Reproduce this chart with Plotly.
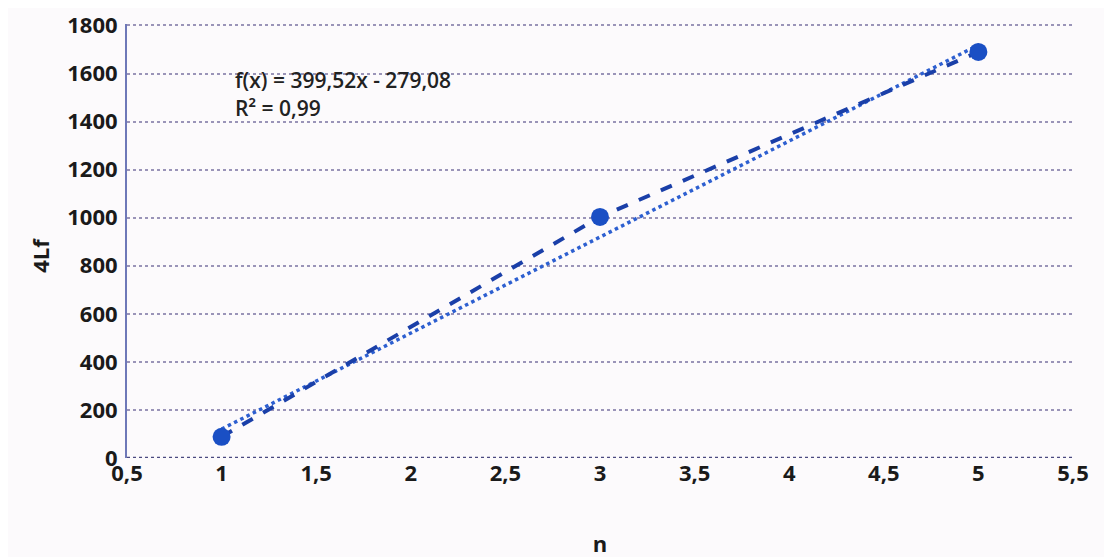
import plotly.graph_objects as go

n_values = [1, 3, 5]
lf4_values = [88, 1003, 1690]
trend_slope = 399.52
trend_intercept = -279.08
trend_x = [1, 5]
trend_label = "f(x) = 399,52x - 279,08"
r2_label = "R² = 0,99"
x_title = "n"
y_title = "4Lf"

trend_y = [trend_slope * x + trend_intercept for x in trend_x]

blue = "#1a4fc4"
font = "Open Sans"

fig = go.Figure()
fig.add_trace(go.Scatter(x=trend_x, y=trend_y, mode="lines",
                         line=dict(color="#2d5fd0", width=3.5, dash="dot"),
                         showlegend=False, hoverinfo="skip"))
fig.add_trace(go.Scatter(x=n_values, y=lf4_values, mode="lines+markers",
                         line=dict(color="#1a3fa8", width=4, dash="dash"),
                         marker=dict(color=blue, size=18),
                         showlegend=False))

for text, ypos in [(trend_label, 0.872), (r2_label, 0.806)]:
    fig.add_annotation(x=0.112, y=ypos, xref="paper", yref="paper",
                       xanchor="left", yanchor="middle",
                       text=text, align="left", showarrow=False,
                       font=dict(family=font, size=21, color="#222222", weight=600))

fig.add_annotation(x=-0.092, y=0.468, xref="paper", yref="paper",
                   xanchor="center", yanchor="middle", textangle=-90,
                   text=y_title, showarrow=False,
                   font=dict(family=font, size=22, color="#1a1a1a", weight="bold"))

fig.update_layout(
    width=1112, height=557,
    margin=dict(l=119, r=47, t=16, b=107),
    paper_bgcolor="#fcfafc", plot_bgcolor="#fcfafc",
    separators=", ",
    font=dict(family=font, size=22, color="#1a1a1a"),
    xaxis=dict(range=[0.5, 5.5], dtick=0.5, tick0=0.5, showgrid=False,
               zeroline=False, showline=False, ticks="", automargin=False,
               ticklabeloverflow="allow",
               tickfont=dict(family=font, size=22, color="#1a1a1a", weight="bold"),
               title=dict(text=x_title, standoff=50,
                          font=dict(family=font, size=22, color="#1a1a1a", weight="bold"))),
    yaxis=dict(range=[0, 1806], dtick=200, showgrid=True,
               gridcolor="#9a94b8", griddash="dot", gridwidth=2,
               zeroline=False, showline=True, linecolor="#6e78b8", linewidth=2,
               ticks="", automargin=False, ticklabelstandoff=3,
               ticklabeloverflow="allow",
               tickfont=dict(family=font, size=22, color="#1a1a1a", weight="bold")),
)
fig.add_shape(type="line", xref="paper", yref="y", x0=0, x1=1, y0=0, y1=0,
              line=dict(color="#4a4a80", width=2.5, dash="dot"))

fig.write_html("out.html")
